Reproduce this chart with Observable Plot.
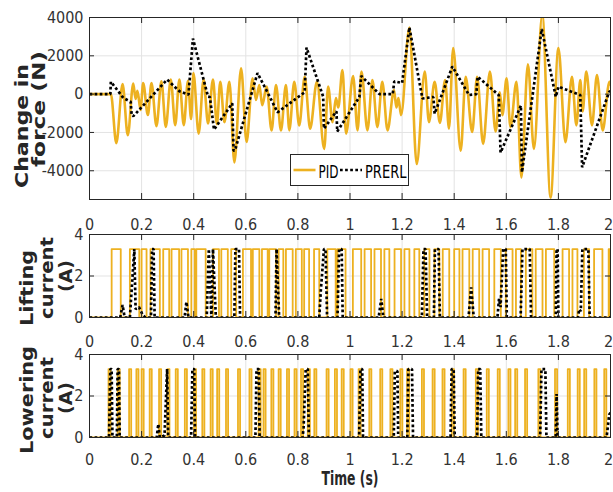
<!DOCTYPE html>
<html><head><meta charset="utf-8">
<script src="https://cdn.jsdelivr.net/npm/d3@7"></script>
<script src="https://cdn.jsdelivr.net/npm/@observablehq/plot@0.6"></script>
<style>
body{margin:0;background:#fff;}
#c{position:relative;width:613px;height:492px;overflow:hidden;background:#fff;}
#c svg{position:absolute;left:0;overflow:visible;}
</style></head><body><div id="c"></div><script>
// ---------- data ----------
const xTicks = [0,0.2,0.4,0.6,0.8,1,1.2,1.4,1.6,1.8,2];
const forceTicks = [-4000,-2000,0,2000,4000];
const currentTicks = [0,2,4];
const seriesNames = ["PID","PRERL"];
const yLabels = [["Change in","force (N)"],["Lifting","current","(A)"],["Lowering","current","(A)"]];
const xLabel = "Time (s)";

// Panel 1: change in force (N) — PID extrema
const pidT = [0,0.082,0.103,0.127,0.147,0.168,0.177,0.184,0.196,0.206,0.224,0.238,0.257,0.276,0.293,0.312,0.329,0.345,0.362,0.378,0.39,0.399,0.419,0.438,0.455,0.474,0.489,0.502,0.518,0.537,0.556,0.582,0.603,0.626,0.639,0.652,0.663,0.68,0.699,0.716,0.735,0.754,0.767,0.786,0.805,0.826,0.847,0.873,0.901,0.916,0.933,0.946,0.955,0.971,0.985,1.012,1.029,1.044,1.067,1.086,1.105,1.124,1.144,1.169,1.178,1.186,1.196,1.228,1.256,1.287,1.303,1.325,1.345,1.365,1.38,1.396,1.425,1.444,1.469,1.488,1.511,1.537,1.559,1.575,1.585,1.601,1.616,1.639,1.658,1.683,1.706,1.738,1.77,1.8,1.827,1.852,1.869,1.884,1.893,1.907,1.929,1.948,1.97,1.996,2];
const pidV = [0,0,-2560,520,-2150,550,-250,180,-830,580,-1090,580,-1670,670,-1710,760,-1620,760,-1620,700,-1300,1100,-2060,760,-1530,760,-1570,650,-1460,650,-3560,1350,-2500,820,-300,470,-580,390,-1890,470,-1890,470,-1890,650,-1630,900,-1800,650,-2860,390,-1460,-200,-700,1260,-2060,950,-1890,1180,-1890,740,-1720,650,-1890,210,-700,-200,-1100,3480,-3650,1180,-1460,650,-1500,740,-1800,2400,-2950,910,-1980,910,-2600,1180,-1950,100,-1100,820,-1720,650,-4350,1560,-2860,4150,-5400,2400,-2510,910,-1630,740,-900,1180,-1630,1000,-1890,650,500];
// Panel 1: PRERL
const prerlT = [0,0.08,0.082,0.13,0.158,0.162,0.168,0.298,0.345,0.38,0.397,0.455,0.462,0.478,0.548,0.553,0.558,0.645,0.678,0.722,0.826,0.833,0.897,0.9,0.948,0.951,1.036,1.043,1.113,1.164,1.17,1.2,1.228,1.278,1.32,1.325,1.393,1.457,1.485,1.49,1.571,1.578,1.656,1.66,1.736,1.79,1.8,1.884,1.891,1.995,2];
const prerlV = [0,0,650,-200,-400,-1100,-1150,760,150,-30,2900,-130,-150,-1850,-480,-2950,-2950,1100,230,-950,100,2430,-130,-1800,-900,-1950,-150,950,0,0,670,580,3480,-230,-150,-1020,1440,-50,0,910,-50,-3050,-600,-4080,3400,-140,390,-50,-3820,120,150];

// Panel 2: lifting current (A) — PID on/off switching times, level
const liftLevel = 3.3;
const liftOn  = [0.085,0.155,0.200,0.234,0.283,0.315,0.353,0.391,0.410,0.474,0.506,0.544,0.589,0.627,0.662,0.690,0.726,0.754,0.792,0.824,0.862,0.913,0.952,1.011,1.056,1.094,1.132,1.171,1.209,1.247,1.285,1.324,1.356,1.400,1.432,1.471,1.509,1.554,1.598,1.637,1.675,1.713,1.752,1.816,1.854,1.898,1.937,1.993];
const liftOff = [0.120,0.191,0.219,0.270,0.306,0.344,0.378,0.404,0.446,0.497,0.531,0.563,0.620,0.652,0.684,0.716,0.744,0.780,0.815,0.843,0.882,0.945,0.983,1.043,1.081,1.119,1.151,1.196,1.228,1.266,1.305,1.343,1.381,1.420,1.458,1.496,1.534,1.579,1.624,1.656,1.700,1.739,1.784,1.841,1.873,1.918,1.969,2.0];
const liftPrerlT = [0,0.118,0.127,0.135,0.155,0.172,0.177,0.19,0.205,0.215,0.236,0.24,0.246,0.25,0.365,0.372,0.38,0.45,0.458,0.468,0.474,0.485,0.556,0.56,0.574,0.578,0.714,0.718,0.728,0.882,0.888,0.9,0.906,0.912,0.952,0.958,0.968,0.972,1.11,1.12,1.128,1.276,1.282,1.29,1.296,1.322,1.326,1.34,1.345,1.455,1.465,1.475,1.566,1.572,1.578,1.588,1.598,1.602,1.655,1.662,1.69,1.695,1.79,1.793,1.797,1.8,1.875,1.88,1.886,1.892,1.915,1.92,2];
const liftPrerlV = [0,0,0.6,0,0,3.3,0.4,0.5,0.1,0,0,3.3,3.3,0,0,0.75,0,0,3.3,0,3.3,0,0,3.3,3.3,0,0,3.3,0,0,1.3,3.3,3.3,0,0,3.3,3.3,0,0,0.9,0,0,3.3,3.3,0,0,3.3,3.3,0,0,1.45,0,0,0.9,0.5,3.3,3.3,0,0,3.3,3.3,0,0,3.3,3.3,0,0,0.4,0.3,3.3,3.3,0,0];

// Panel 3: lowering current (A)
const lowerLevel = 3.3;
const lowerOn  = [0.073,0.108,0.152,0.180,0.200,0.231,0.267,0.299,0.331,0.366,0.401,0.433,0.465,0.490,0.524,0.570,0.614,0.649,0.668,0.698,0.726,0.758,0.787,0.812,0.838,0.863,0.910,0.942,0.968,1.002,1.033,1.074,1.116,1.155,1.193,1.219,1.276,1.317,1.355,1.391,1.436,1.483,1.525,1.567,1.608,1.634,1.672,1.723,1.787,1.836,1.874,1.899,1.938,1.976];
const lowerOff = [0.081,0.116,0.160,0.188,0.208,0.239,0.275,0.307,0.339,0.374,0.409,0.441,0.473,0.498,0.532,0.578,0.622,0.657,0.676,0.706,0.734,0.766,0.795,0.820,0.846,0.871,0.918,0.950,0.976,1.010,1.041,1.082,1.124,1.163,1.201,1.227,1.284,1.325,1.363,1.399,1.444,1.491,1.533,1.575,1.616,1.642,1.680,1.731,1.795,1.844,1.882,1.907,1.946,1.984];
const lowerPrerlT = [0,0.075,0.08,0.085,0.088,0.105,0.108,0.113,0.116,0.258,0.264,0.27,0.288,0.298,0.302,0.39,0.395,0.402,0.405,0.637,0.641,0.65,0.653,0.818,0.822,0.83,0.838,0.842,1.035,1.04,1.047,1.05,1.168,1.172,1.182,1.185,1.22,1.224,1.238,1.242,1.386,1.39,1.398,1.402,1.488,1.492,1.5,1.504,1.73,1.735,1.75,1.754,1.79,1.793,1.797,1.985,1.995,2];
const lowerPrerlV = [0,0,3.3,3.3,0,0,3.3,3.3,0,0,0.65,0,0.1,3.3,0,0,3.3,3.3,0,0,3.3,3.3,0,0,0.5,3.3,3.3,0,0,3.3,3.3,0,0,3.2,3.2,0,0,3.3,3.3,0,0,3.3,3.3,0,0,3.3,3.3,0,0,3.3,3.3,0,0,2.1,0,0,1.1,1.2];

// ---------- build ----------
const ORANGE = "#EDB120", INK = "#262626", GRID = "#e3e3e3";
const FONT = '"Liberation Sans Narrow","Arial Narrow","DejaVu Sans Condensed",sans-serif';
const DASH = "2.7,2.4";
const zip = (T, V) => T.map((t, i) => ({t, v: V[i]}));
function steps(on, off, lvl) {
  const p = [{t: 0, v: 0}];
  on.forEach((a, i) => p.push({t: a, v: 0}, {t: a, v: lvl}, {t: off[i], v: lvl}, {t: off[i], v: 0}));
  p.push({t: 2, v: 0});
  return p;
}
const W = 613, ML = 89, MR = 3;
function panel({top, height, mt, mb, yDomain, yTicks, pad, orange, black, ow, curve}) {
  const ph = height - mt - mb, pw = W - ML - MR;
  const svg = Plot.plot({
    width: W, height, marginLeft: ML, marginRight: MR, marginTop: mt, marginBottom: mb,
    style: {fontFamily: FONT, fontSize: "16px", color: "#333", background: "transparent", overflow: "visible"},
    x: {domain: [0, 2], ticks: xTicks, tickFormat: d => String(d), tickSize: 0, tickPadding: pad, label: null},
    y: {domain: yDomain, ticks: yTicks, tickFormat: d => String(d), tickSize: 0, tickPadding: 6, label: null},
    marks: [
      Plot.ruleX(xTicks, {x: d => d, stroke: GRID}),
      Plot.ruleY(yTicks, {y: d => d, stroke: GRID}),
      Plot.line(orange, {x: "t", y: "v", stroke: ORANGE, strokeWidth: ow, curve, clip: true}),
      Plot.line(black, {x: "t", y: "v", stroke: "#000", strokeWidth: 2.7, strokeDasharray: DASH, strokeLinecap: "butt", strokeLinejoin: "miter", clip: true}),
      Plot.frame({stroke: INK}),
      Plot.ruleX(xTicks, {x: d => d, insetTop: ph - 6, stroke: INK}),
      Plot.ruleX(xTicks, {x: d => d, insetBottom: ph - 6, stroke: INK}),
      Plot.ruleY(yTicks, {y: d => d, insetRight: pw - 5, stroke: INK}),
      Plot.ruleY(yTicks, {y: d => d, insetLeft: pw - 5, stroke: INK})
    ]
  });
  svg.style.top = top + "px";
  // keep the last x tick label ("2") inside the picture
  d3.select(svg).selectAll("g[aria-label^='x-axis'] text").filter(function() { return this.textContent === "2"; }).attr("dx", -2);
  document.getElementById("c").appendChild(svg);
}
panel({top: 0, height: 235, mt: 17, mb: 36, yDomain: [-5500, 4000], yTicks: forceTicks, pad: 19, orange: zip(pidT, pidV), black: zip(prerlT, prerlV), ow: 2.6, curve: "monotone-x"});
panel({top: 232, height: 120, mt: 2, mb: 35, yDomain: [0, 4], yTicks: currentTicks, pad: 18, orange: steps(liftOn, liftOff, liftLevel), black: zip(liftPrerlT, liftPrerlV), ow: 1.8, curve: "linear"});
panel({top: 352, height: 140, mt: 2, mb: 55, yDomain: [0, 4], yTicks: currentTicks, pad: 16, orange: steps(lowerOn, lowerOff, lowerLevel), black: zip(lowerPrerlT, lowerPrerlV), ow: 1.8, curve: "linear"});

// ---------- overlay: axis titles + legend ----------
const ov = d3.select("#c").append("svg").attr("width", W).attr("height", 492).style("top", "0px");
const labelFont = '"DejaVu Sans",sans-serif';
const yTitleGeom = [
  [{x: 28, y: 126, len: 124}, {x: 45, y: 109, len: 116}],
  [{x: 33, y: 288, len: 76}, {x: 53, y: 278, len: 82}, {x: 72, y: 276, len: 32}],
  [{x: 33, y: 400, len: 108}, {x: 53, y: 398, len: 82}, {x: 72, y: 398, len: 32}]
];
yLabels.forEach((lines, p) => lines.forEach((s, i) => {
  const g = yTitleGeom[p][i];
  ov.append("text").text(s)
    .attr("transform", `translate(${g.x},${g.y}) rotate(-90)`)
    .attr("text-anchor", "middle").attr("font-family", labelFont).attr("font-weight", "bold")
    .attr("font-size", 17).attr("fill", "#262626")
    .attr("textLength", g.len).attr("lengthAdjust", "spacingAndGlyphs");
}));
ov.append("text").text(xLabel).attr("x", 321.5).attr("y", 485)
  .attr("font-family", FONT).attr("font-weight", "bold").attr("font-size", 19).attr("fill", "#262626")
  .attr("textLength", 57).attr("lengthAdjust", "spacingAndGlyphs");
// legend
const lg = ov.append("g");
lg.append("rect").attr("x", 290.5).attr("y", 154.5).attr("width", 118).attr("height", 31)
  .attr("fill", "#fff").attr("stroke", "#262626");
lg.append("line").attr("x1", 293.5).attr("x2", 315.5).attr("y1", 170).attr("y2", 170).attr("stroke", ORANGE).attr("stroke-width", 2.6);
lg.append("text").text(seriesNames[0]).attr("x", 318.5).attr("y", 178).attr("font-family", FONT).attr("font-size", 17.5).attr("fill", "#000")
  .attr("textLength", 20).attr("lengthAdjust", "spacingAndGlyphs");
lg.append("line").attr("x1", 340).attr("x2", 362).attr("y1", 170).attr("y2", 170).attr("stroke", "#000").attr("stroke-width", 2.7).attr("stroke-dasharray", DASH);
lg.append("text").text(seriesNames[1]).attr("x", 365).attr("y", 178).attr("font-family", FONT).attr("font-size", 17.5).attr("fill", "#000")
  .attr("textLength", 41.5).attr("lengthAdjust", "spacingAndGlyphs");
</script></body></html>
